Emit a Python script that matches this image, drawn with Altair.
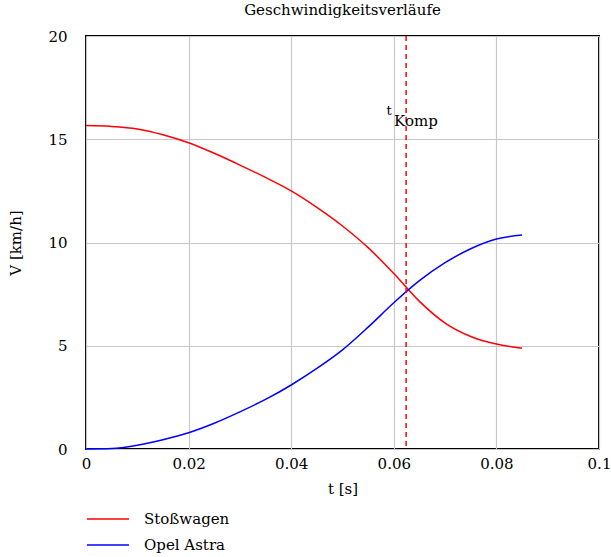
import altair as alt
import pandas as pd

t_values = [0, 0.005, 0.01, 0.015, 0.02, 0.025, 0.03, 0.035, 0.04, 0.045,
            0.05, 0.055, 0.06, 0.065, 0.07, 0.075, 0.08, 0.085]
v_stosswagen = [15.66, 15.62, 15.5, 15.22, 14.83, 14.32, 13.75, 13.15, 12.5, 11.7,
                10.8, 9.75, 8.5, 7.15, 6.1, 5.45, 5.08, 4.88]
v_opel = [0.0, 0.02, 0.18, 0.45, 0.79, 1.25, 1.8, 2.4, 3.1, 3.9,
          4.8, 5.9, 7.08, 8.15, 9.02, 9.7, 10.17, 10.36]
series_names = ["Stoßwagen", "Opel Astra"]
series_colors = ["#ff0000", "#0000ff"]
t_komp = 0.0624
label_v = 15.9

x_ticks = [0, 0.02, 0.04, 0.06, 0.08, 0.1]
y_ticks = [0, 5, 10, 15, 20]

FONT = "DejaVu Serif"
FS = 15

rows = []
for i, t in enumerate(t_values):
    rows.append({"t": t, "v": v_stosswagen[i], "Serie": series_names[0], "o": 0})
    rows.append({"t": t, "v": v_opel[i], "Serie": series_names[1], "o": 1})
df = pd.DataFrame(rows)

x_scale = alt.Scale(domain=[0, 0.1], nice=False, zero=False)
y_scale = alt.Scale(domain=[0, 20], nice=False)

lines = alt.Chart(df).mark_line(strokeWidth=1.5, interpolate="monotone").encode(
    x=alt.X("t:Q", scale=x_scale,
            axis=alt.Axis(title="t [s]", values=x_ticks,
                          labelExpr="datum.value == 0 ? '0' : format(datum.value, '.2~f')",
                          grid=True, ticks=False, domain=False, labelPadding=7,
                          labelFlush=False, titlePadding=10)),
    y=alt.Y("v:Q", scale=y_scale,
            axis=alt.Axis(title="V  [km/h]", values=y_ticks, grid=True, ticks=False,
                          domain=False, labelPadding=19, titlePadding=24)),
    color=alt.Color("Serie:N", sort=series_names,
                    scale=alt.Scale(domain=series_names, range=series_colors),
                    legend=alt.Legend(title=None, orient="none", legendX=14, legendY=475,
                                      symbolType="M-3,0H3", symbolSize=196,
                                      symbolStrokeWidth=1.5, symbolFillColor="transparent",
                                      rowPadding=10,
                                      labelOffset=28, labelFont=FONT, labelFontSize=FS,
                                      labelColor="black")),
    order="o:Q",
)

rule_df = pd.DataFrame({"t": [t_komp]})
rule = alt.Chart(rule_df).mark_rule(color="#ff0000", strokeDash=[5, 4], strokeWidth=1.5).encode(
    x=alt.X("t:Q", scale=x_scale)
)

lab_df = pd.DataFrame({"t": [t_komp], "v": [label_v]})
lab_t = alt.Chart(lab_df).mark_text(text="t", font=FONT, fontSize=13, align="center",
                                   baseline="middle", dx=-17, dy=-10, color="black").encode(
    x=alt.X("t:Q", scale=x_scale), y=alt.Y("v:Q", scale=y_scale))
lab_k = alt.Chart(lab_df).mark_text(text="Komp", font=FONT, fontSize=FS, align="left",
                                   baseline="middle", dx=-12, color="black").encode(
    x=alt.X("t:Q", scale=x_scale), y=alt.Y("v:Q", scale=y_scale))

chart = alt.layer(lines, rule, lab_t, lab_k).properties(
    width=513, height=413,
    title=alt.Title("Geschwindigkeitsverläufe", font=FONT, fontSize=FS, fontWeight="normal",
                    color="black", offset=11),
    autosize=alt.AutoSizeParams(type="none"),
    padding={"left": 86, "top": 36, "right": 12, "bottom": 108},
).configure(background="white").configure_view(
    stroke="black", strokeWidth=2
).configure_axis(
    gridColor="#c8c8c8", gridWidth=1.2, labelFont=FONT, labelFontSize=FS,
    labelColor="black", titleFont=FONT, titleFontSize=FS, titleFontWeight="normal",
    titleColor="black"
)

chart.save("out.html", embed_options={"renderer": "svg", "actions": False})
